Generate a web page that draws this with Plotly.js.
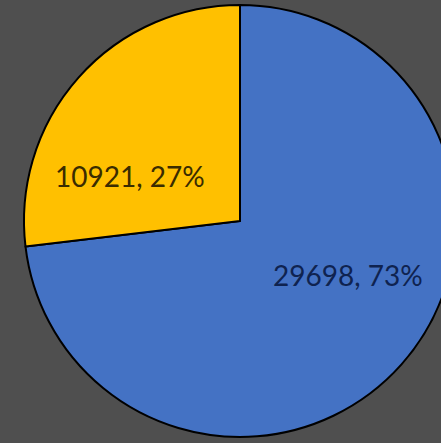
<!DOCTYPE html>
<html>
<head>
<meta charset="utf-8">
<script src="https://cdn.plot.ly/plotly-3.0.1.min.js"></script>
<style>
html,body{margin:0;padding:0;overflow:hidden;background:#4f4f4f;width:441px;height:443px;}
#chart{width:480px;height:443px;}
</style>
</head>
<body>
<div id="chart"></div>
<script>
const labels = ["Blue", "Gold"];
const values = [29698, 10921];
const colors = ["#4472C4", "#FFC000"];
const textColors = ["#0f2350", "#3a2c00"];
// label anchor spots (paper fractions) for each slice label
const labelPos = [[0.75, 0.375], [0.245, 0.604]];

const total = values.reduce((a, b) => a + b, 0);

const trace = {
  type: "pie",
  labels: labels,
  values: values,
  sort: false,
  direction: "clockwise",
  rotation: 0,
  marker: {colors: colors, line: {color: "#000000", width: 2}},
  textinfo: "none",
  hoverinfo: "none",
  showlegend: false
};

const annotations = values.map((v, i) => ({
  xref: "paper", yref: "paper",
  x: labelPos[i][0], y: labelPos[i][1],
  xanchor: "center", yanchor: "middle",
  showarrow: false,
  text: v + ", " + Math.round(v / total * 100) + "%",
  font: {family: "Lato, 'Open Sans', sans-serif", size: 28, color: textColors[i]}
}));

const layout = {
  width: 480,
  height: 443,
  margin: {l: 24, r: 24, t: 5, b: 6},
  paper_bgcolor: "#4f4f4f",
  plot_bgcolor: "#4f4f4f",
  showlegend: false,
  annotations: annotations
};

Plotly.newPlot("chart", [trace], layout, {displayModeBar: false, staticPlot: true});
</script>
</body>
</html>
